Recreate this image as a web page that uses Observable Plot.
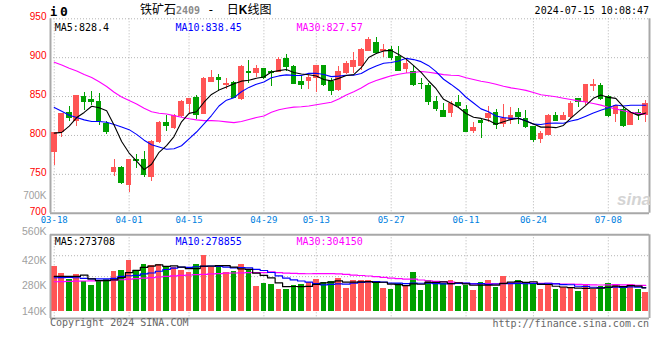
<!DOCTYPE html>
<html><head><meta charset="utf-8">
<script src="https://cdn.jsdelivr.net/npm/d3@7"></script>
<script src="https://cdn.jsdelivr.net/npm/@observablehq/plot@0.6"></script>
<style>
body{margin:0;background:#fff;}
#wrap{position:relative;width:660px;height:360px;overflow:hidden;background:#fff;}
#wrap svg{position:absolute;left:0;}
.txt{position:absolute;white-space:pre;line-height:14px;}
</style></head><body><div id="wrap"></div>
<script>
// ---- data ----
const dates = ["03-18","03-19","03-20","03-21","03-22","03-25","03-26","03-27","03-28","03-29",
"04-01","04-02","04-03","04-08","04-09","04-10","04-11","04-12","04-15","04-16",
"04-17","04-18","04-19","04-22","04-23","04-24","04-25","04-26","04-29","04-30",
"05-06","05-07","05-08","05-09","05-10","05-13","05-14","05-15","05-16","05-17",
"05-20","05-21","05-22","05-23","05-24","05-27","05-28","05-29","05-30","05-31",
"06-03","06-04","06-05","06-06","06-07","06-11","06-12","06-13","06-14","06-17",
"06-18","06-19","06-20","06-21","06-24","06-25","06-26","06-27","06-28","07-01",
"07-02","07-03","07-04","07-05","07-08","07-09","07-10","07-11","07-12","07-15"];
const open = [778.5,804,828.5,818,849,845.5,842.5,814.5,753,758,
736.5,768,768,746.5,791.5,816.5,810,824.5,840,848,
827.5,869,874.5,865.5,867,846.5,882,880,885,882,
882,898,888.5,868.5,870,874.5,889.5,869,858.5,880,
888,889,909,919.5,908.5,910.5,900.5,885.5,882,866.5,
863.5,842.5,831.5,828.5,841.5,832.5,806,819,822,829.5,
814.5,820,828.5,821,810.5,795.5,801,824.5,820,823.5,
846.5,843.5,863.5,863,850,827.5,833,813,829.5,826.5];
const high = [803,828,837,851,855.5,856.5,854,818,769,760,
768.5,776,779.5,794,818,825.5,827.5,844.5,848,851,
874.5,884,878.5,873.5,869,889.5,897,890.5,886.5,883,
900,903.5,890.5,877.5,877.5,890.5,890.5,873.5,888.5,895,
907,912,926,926,917.5,914,914,897,890.5,873.5,
867,850,841.5,843.5,851.5,838.5,816,821.5,837,833.5,
840,836,835,831.5,811.5,805,827.5,829.5,829.5,843.5,
848,866,871.5,867,851.5,838,837,829.5,833,844.5];
const low = [761.5,797.5,818,811.5,831.5,838.5,813,801.5,747.5,736.5,
726.5,758,746,741,789,805,807,823,827.5,820,
826.5,868.5,857,858.5,847,845.5,867,874.5,872.5,863,
881,882,865,858.5,858.5,855.5,863.5,851,856.5,878.5,
880,884,907.5,903.5,900,897,882,880,863,858.5,
839,831,823.5,823.5,835,804,803,796.5,817,808,
810.5,814.5,813.5,809.5,791.5,790,800,818,819,821.5,
836.5,838.5,857,845.5,823,816,810.5,813,819,816.5];
const close = [803,827.5,823,851,843.5,842.5,818,804,757.5,739,
768.5,766.5,748.5,792,816,811.5,824.5,843.5,846.5,826.5,
872.5,874.5,871.5,866.5,848,888.5,880,885,874.5,880,
897,887.5,866,865,874.5,889.5,865,857,881,892.5,
895.5,909.5,922.5,906.5,909.5,899,883.5,892,865,866,
843.5,834,823.5,840,838.5,805,810,816,827.5,813,
821.5,824.5,823.5,810.5,793.5,801.5,825.5,819,825,840.5,
843.5,865,864.5,846.5,825,837.5,811.5,828.5,826.5,840];
const volumeK = [387,347,314,342,302,283,302,314,360,365,
420,365,397,393,397,379,379,365,353,397,
445,379,379,353,357,397,362,277,292,287,
259,259,283,287,296,314,298,305,320,265,
309,309,309,303,266,259,294,281,353,254,
309,294,294,309,276,281,254,298,309,273,
332,290,308,290,290,261,285,260,270,270,
249,281,261,275,293,281,268,287,260,243];
// moving-average values before enough history exists
const ma5Head = [803,804,812,823];
const ma10Head = [836,831,826,823,820,818,818,817,814];
const ma30Head = [894,890.5,886.5,883,878.5,874.5,869,863,855.5,849.5,845,840.5,835,830.5,828.5,
827.5,825.5,823.5,821.5,820,819,819,818.5,817.5,816.5,818,820.5,823,825];
const vma5Head = [331,331,331,331];
const vma10Head = [324,325,326,324,320,318,318,318,320];
const vma30Head = [302,303,304,305,306,307,308,309,311,313,316,319,322,325,328,331,334,337,339,341,
343,345,347,349,350,351,352,352,352];
const tickDates = ["03-18","04-01","04-15","04-29","05-13","05-27","06-11","06-24","07-08"];
const priceTicks = [700,750,800,850,900,950];
const volTopTickK = [560];
const volTicksK = [420,280,140];
const priceLegend = ["MA5:828.4","MA10:838.45","MA30:827.57"];
const volLegend = ["MA5:273708","MA10:278855","MA30:304150"];

// ---- derived ----
const N = dates.length;
const idx = d3.range(N);
const candles = idx.map(i => ({i, o: open[i], h: high[i], l: low[i], c: close[i], v: volumeK[i]*1000}));
const vol = volumeK.map(v => v*1000);
function ma(arr, k, head){ return idx.map(i => i < k-1 ? head[i] : d3.mean(arr.slice(i-k+1, i+1))); }
const ma5 = ma(close,5,ma5Head), ma10 = ma(close,10,ma10Head), ma30 = ma(close,30,ma30Head);
const vma5 = ma(vol,5,vma5Head.map(v=>v*1000)), vma10 = ma(vol,10,vma10Head.map(v=>v*1000)), vma30 = ma(vol,30,vma30Head.map(v=>v*1000));
const tickIdx = tickDates.map(d => dates.indexOf(d));

const RED = "#ff5555", GREEN = "#00a000", GRID = "#b4b4b4", FRAME = "#a8a8a8", XBLUE = "#0080e0";
const MONO = "DejaVu Sans Mono, monospace";
const SANS = "Liberation Sans, Arial, sans-serif";
const up = d => d.c >= d.o;
const dn = d => d.c < d.o;
const lineColors = ["#000000","#0000ff","#ff00ff"];
const legendDx = [4.3, 125, 246];

function legendMarks(labels, dy){
  return labels.map((t,k) => Plot.text([t], {frameAnchor:"top-left", dx: legendDx[k], dy, textAnchor:"start", fill: lineColors[k], fontFamily: MONO, fontSize: 10}));
}

const price = Plot.plot({
  width: 660, height: 232,
  marginLeft: 50, marginRight: 11, marginTop: 18.3, marginBottom: 19.3,
  style: {overflow: "visible", background: "transparent", fontFamily: MONO, fontSize: "10px"},
  x: {type: "linear", domain: [-0.5, N-0.5], axis: null},
  y: {type: "linear", domain: [700, 950], axis: null},
  marks: [
    Plot.ruleY([750,800,850,900,950], {stroke: GRID, strokeDasharray: "1,2"}),
    Plot.ruleX(tickIdx, {stroke: GRID, strokeDasharray: "1,2"}),
    Plot.ruleX([-0.5, N-0.5], {stroke: FRAME, strokeWidth: 2}),
    Plot.ruleY([700], {stroke: FRAME, strokeWidth: 2}),
    Plot.ruleX(candles, {filter: up, x: "i", y1: "l", y2: "h", stroke: RED, shapeRendering: "crispEdges"}),
    Plot.ruleX(candles, {filter: dn, x: "i", y1: "l", y2: "h", stroke: GREEN, shapeRendering: "crispEdges"}),
    Plot.rect(candles, {filter: up, x1: d => d.i-0.5, x2: d => d.i+0.5, y1: d => Math.min(d.o,d.c), y2: d => Math.max(d.o,d.c),
      fill: RED, insetLeft: 0.95, insetRight: 0.95, insetTop: -0.5, insetBottom: -0.5, shapeRendering: "crispEdges"}),
    Plot.rect(candles, {filter: dn, x1: d => d.i-0.5, x2: d => d.i+0.5, y1: d => Math.min(d.o,d.c), y2: d => Math.max(d.o,d.c),
      fill: GREEN, insetLeft: 0.95, insetRight: 0.95, insetTop: -0.5, insetBottom: -0.5, shapeRendering: "crispEdges"}),
    Plot.line(idx, {x: i => i, y: i => ma30[i], stroke: lineColors[2], strokeWidth: 1.1}),
    Plot.line(idx, {x: i => i, y: i => ma10[i], stroke: lineColors[1], strokeWidth: 1.1}),
    Plot.line(idx, {x: i => i, y: i => ma5[i], stroke: lineColors[0], strokeWidth: 1.1}),
    Plot.text(priceTicks, {y: d => d, text: d => String(d), frameAnchor: "left", textAnchor: "end", dx: -4, dy: -1.8,
      fill: "#ff0000", fontFamily: SANS, fontSize: 10}),
    Plot.text(["700K"], {frameAnchor: "bottom-left", textAnchor: "end", dx: -4, dy: -14, fill: "#a0a0a0",
      fontFamily: SANS, fontSize: 10}),
    Plot.text(tickIdx, {x: d => d, text: i => dates[i], frameAnchor: "bottom", dy: 9.3, fill: XBLUE, fontFamily: MONO, fontSize: 9}),
    ...legendMarks(priceLegend, 5.5)
  ]
});
price.style.top = "0px";

const volume = Plot.plot({
  width: 660, height: 128,
  marginLeft: 50, marginRight: 11, marginTop: 2.3, marginBottom: 42,
  style: {overflow: "visible", background: "transparent", fontFamily: MONO, fontSize: "10px"},
  x: {type: "linear", domain: [-0.5, N-0.5], axis: null},
  y: {type: "linear", domain: [100000, 560000], axis: null},
  marks: [
    Plot.ruleY([215000, 330000, 445000], {stroke: GRID, strokeDasharray: "1,2"}),
    Plot.ruleX(tickIdx, {stroke: GRID, strokeDasharray: "1,2"}),
    Plot.rect(candles, {filter: up, x1: d => d.i-0.5, x2: d => d.i+0.5, y1: 140000, y2: "v",
      fill: RED, insetLeft: 0.95, insetRight: 0.95, shapeRendering: "crispEdges"}),
    Plot.rect(candles, {filter: dn, x1: d => d.i-0.5, x2: d => d.i+0.5, y1: 140000, y2: "v",
      fill: GREEN, insetLeft: 0.95, insetRight: 0.95, shapeRendering: "crispEdges"}),
    Plot.line(idx, {x: i => i, y: i => vma30[i], stroke: lineColors[2], strokeWidth: 1.2, curve: "step"}),
    Plot.line(idx, {x: i => i, y: i => vma10[i], stroke: lineColors[1], strokeWidth: 1.2, curve: "step"}),
    Plot.line(idx, {x: i => i, y: i => vma5[i], stroke: lineColors[0], strokeWidth: 1.2, curve: "step"}),
    Plot.ruleX([-0.5, N-0.5], {stroke: FRAME, strokeWidth: 2}),
    Plot.ruleY([100000, 560000], {stroke: FRAME, strokeWidth: 2}),
    Plot.text(volTopTickK, {y: d => d*1000, text: d => d + "K", frameAnchor: "left", textAnchor: "end", dx: -4, dy: -3,
      fill: "#a0a0a0", fontFamily: SANS, fontSize: 10.5}),
    Plot.text(volTicksK, {y: d => d*1000, text: d => d + "K", frameAnchor: "left", textAnchor: "end", dx: -4,
      fill: "#a0a0a0", fontFamily: SANS, fontSize: 10.5}),
    ...legendMarks(volLegend, 3.5)
  ]
});
volume.style.top = "232px";

const wrap = document.getElementById("wrap");
wrap.appendChild(price);
wrap.appendChild(volume);

function addText(html, css){
  const d = document.createElement("div");
  d.className = "txt";
  d.innerHTML = html;
  Object.assign(d.style, css);
  wrap.appendChild(d);
}
addText('<span style="font-family:DejaVu Sans Mono;font-weight:bold;font-size:12px">i</span>', {left:"50px", top:"4px"});
addText('<span style="font-family:DejaVu Sans Mono;font-weight:bold;font-size:13px">0</span>', {left:"60px", top:"4px"});
addText('<span style="font-family:\'Noto Sans CJK SC\';font-size:12px;color:#000">铁矿石</span><span style="font-family:DejaVu Sans Mono;font-size:10px;font-weight:bold;color:#8a8a8a">2409</span><span style="font-family:DejaVu Sans Mono;font-size:12px;color:#000"> - </span><span style="font-family:\'Noto Sans CJK SC\';font-size:12px;color:#000;margin-left:5px">日<b style="font-family:Liberation Sans">K</b>线图</span>',
  {left:"140px", top:"2px"});
addText('2024-07-15 10:08:47', {right:"11px", top:"4px", fontFamily:"DejaVu Sans Mono", fontSize:"10px", color:"#000"});
addText('Copyright 2024 SINA.COM', {left:"50px", top:"316px", fontFamily:"DejaVu Sans Mono", fontSize:"10px", color:"#666"});
addText('http://finance.sina.com.cn', {right:"11px", top:"317px", fontFamily:"DejaVu Sans Mono", fontSize:"10px", color:"#666"});
addText('sina', {left:"617px", top:"191px", fontFamily:"Liberation Sans", fontSize:"17px", fontStyle:"italic", fontWeight:"bold", color:"#d4d4d4", lineHeight:"18px"});
</script></body></html>
